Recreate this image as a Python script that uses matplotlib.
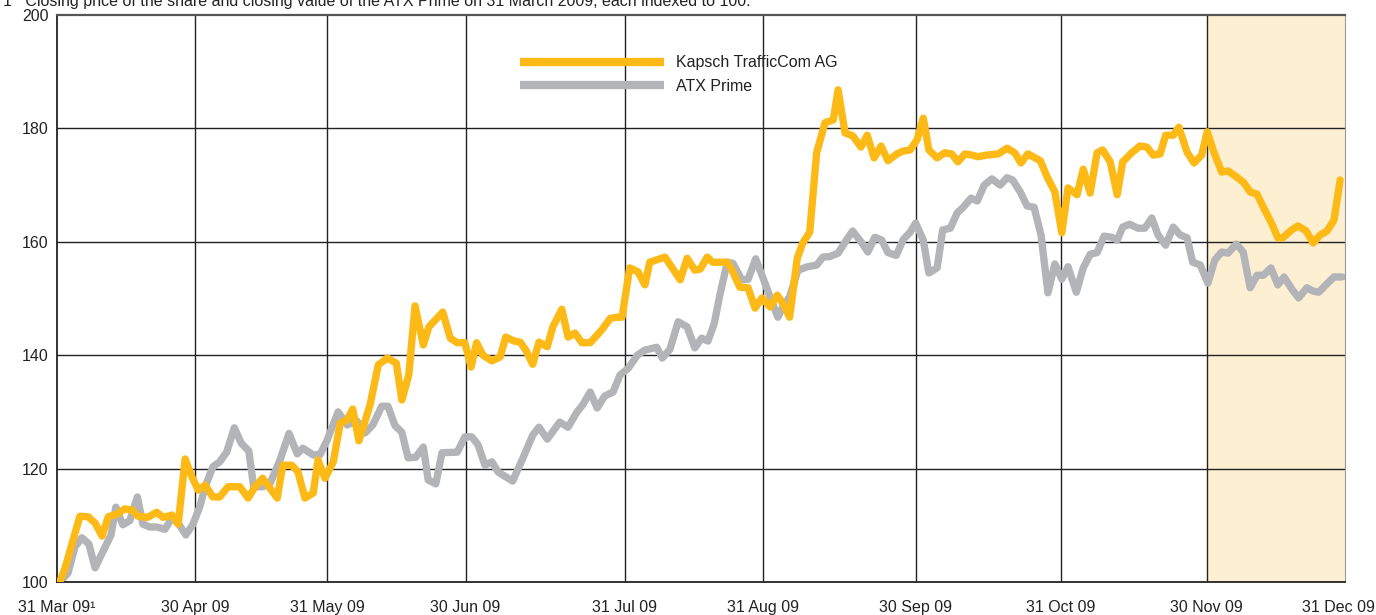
import matplotlib.pyplot as plt
from matplotlib.transforms import ScaledTranslation

plt.rcParams['font.family'] = ['Liberation Sans', 'DejaVu Sans']

# x = trading day since 31 Mar 09, y = index (31 Mar 09 = 100)
kapsch_day = [0.4, 1.2, 3.3, 4.5, 5.5, 6.5, 7.4, 8.7, 9.8, 10.8, 11.7, 13.1, 14.4, 15.3, 16.6, 17.5,
              18.5, 19.5, 20.4, 21.4, 22.5, 23.5, 24.7, 26.4, 27.6, 28.6, 29.7, 31.8, 32.6, 33.9, 34.8,
              35.8, 37.0, 37.7, 38.7, 39.9, 40.9, 41.9, 42.7, 43.6, 45.2, 46.4, 47.7, 49.0, 49.8, 50.8,
              51.7, 52.9, 53.7, 55.7, 56.8, 57.8, 58.9, 59.8, 60.6, 61.5, 62.8, 64.0, 64.8, 66.0, 66.9,
              67.7, 68.7, 69.6, 70.8, 71.6, 72.9, 73.8, 74.8, 75.8, 77.0, 78.7, 79.9, 80.9, 81.6, 82.7,
              83.9, 84.9, 85.6, 87.8, 90.0, 91.0, 92.1, 92.9, 93.9, 94.7, 96.8, 97.6, 98.6, 99.8, 100.8,
              101.8, 103.0, 104.0, 104.8, 105.8, 106.9, 107.7, 108.7, 109.7, 110.9, 112.1, 112.8, 113.8,
              114.9, 116.1, 117.0, 118.0, 119.0, 120.0, 121.3, 122.2, 123.2, 124.2, 125.1, 125.9, 127.1,
              128.2, 129.2, 130.1, 131.1, 132.1, 133.0, 134.3, 135.9, 137.2, 138.3, 139.2, 140.2, 142.0,
              143.0, 144.1, 145.1, 146.0, 147.3, 148.2, 149.2, 150.2, 151.0, 152.1, 153.1, 153.9, 155.2,
              156.4, 157.4, 158.3, 159.3, 160.1, 161.2, 162.0, 163.2, 164.2, 165.3, 166.1, 167.1, 168.2,
              169.1, 170.4, 171.4, 172.3, 173.3, 174.2, 175.5, 176.3, 177.0, 178.3, 179.2, 180.4, 181.4,
              182.4, 183.4, 184.4, 185.3]
kapsch_val = [100, 102.6, 111.6, 111.5, 110.4, 108.1, 111.5, 112, 112.9, 112.7, 111.6, 111.4, 112.3, 111.4,
              111.8, 110.2, 121.7, 118.5, 116.2, 117.1, 115, 115, 116.8, 116.8, 114.8, 116.8, 118.3, 114.8,
              120.6, 120.6, 119.4, 114.8, 115.7, 121.5, 118.3, 121.2, 128, 128.6, 130.5, 124.9, 131.2,
              138.3, 139.5, 138.6, 132.1, 136.5, 148.7, 141.8, 145, 147.6, 143, 142.2, 142.2, 137.9, 142.2,
              140, 139, 139.7, 143.2, 142.5, 142.3, 140.9, 138.4, 142.3, 141.5, 145, 148.1, 143.2, 143.9,
              142.2, 142.2, 144.5, 146.5, 146.7, 146.7, 155.4, 154.7, 152.4, 156.4, 157.3, 153.3, 157.1,
              155, 155.2, 157.3, 156.4, 156.4, 154.7, 152, 151.9, 148.3, 150.1, 148.5, 150.6, 149.2, 146.7,
              157.1, 159.8, 161.7, 175.7, 181, 181.5, 186.8, 179.2, 178.7, 176.7, 178.8, 174.8, 176.9,
              174.3, 175.5, 176, 176.2, 178, 181.8, 176.2, 174.8, 175.7, 175.5, 174.1, 175.5, 175.3, 175,
              175.3, 175.5, 176.5, 175.7, 173.9, 175.5, 174.3, 171.4, 168.8, 161.6, 169.5, 168.3, 172.8,
              168.6, 175.7, 176.2, 174.1, 168.3, 174.1, 175.7, 176.9, 176.7, 175.3, 175.5, 178.8, 178.8,
              180.2, 175.8, 173.9, 175.3, 179.4, 175.7, 172.3, 172.5, 171.4, 170.4, 168.8, 168.4, 166.1,
              163, 160.7, 160.7, 162.1, 162.8, 161.9, 159.8, 161.2, 161.9, 163.8, 170.9]

atx_day = [0.4, 1.6, 2.6, 3.6, 4.6, 5.5, 6.6, 7.8, 8.5, 9.5, 10.5, 11.6, 12.4, 13.4, 14.4, 15.6, 16.6,
           17.5, 18.6, 19.6, 20.6, 21.4, 22.5, 23.5, 24.5, 25.6, 26.6, 27.7, 28.4, 29.7, 30.8, 32.2,
           33.5, 34.7, 35.5, 37.0, 38.0, 39.0, 40.6, 41.9, 43.3, 44.5, 45.6, 46.9, 47.8, 48.8, 49.8,
           50.7, 51.8, 52.9, 53.6, 54.7, 55.6, 57.8, 58.9, 59.9, 60.8, 61.8, 62.8, 63.7, 65.8, 67.3,
           68.7, 69.6, 70.8, 72.6, 73.8, 75.1, 75.9, 77.0, 78.0, 79.1, 80.3, 81.3, 82.5, 83.8, 84.9,
           86.6, 87.4, 88.5, 89.7, 91.0, 92.1, 93.1, 94.0, 94.9, 95.7, 96.8, 97.6, 98.9, 99.8, 100.9,
           101.9, 103.0, 104.1, 104.8, 105.8, 107.0, 108.4, 109.7, 110.6, 111.6, 112.8, 114.1, 114.9,
           116.1, 117.1, 118.1, 119.1, 120.0, 121.2, 122.2, 123.2, 124.0, 125.1, 125.9, 127.1, 127.9,
           129.0, 130.0, 130.8, 132.0, 132.9, 133.9, 135.0, 136.2, 137.2, 138.0, 139.1, 140.1, 141.1,
           142.1, 143.1, 144.1, 145.1, 146.0, 147.2, 148.2, 149.2, 150.2, 151.2, 152.3, 153.1, 153.9,
           154.9, 156.1, 157.1, 158.1, 159.0, 160.1, 161.2, 162.2, 163.2, 164.0, 165.1, 166.2, 167.2,
           168.2, 169.1, 170.3, 171.3, 172.3, 173.3, 174.2, 175.3, 176.3, 177.2, 178.3, 179.3, 180.5,
           181.4, 182.2, 183.4, 184.4, 185.6]
atx_val = [100, 101.6, 106.2, 107.8, 106.7, 102.5, 105.3, 108.3, 113.2, 110.1, 110.8, 115, 110.2, 109.7,
           109.7, 109.3, 111.3, 110.4, 108.3, 110.1, 113.2, 116.8, 120.3, 121.2, 122.9, 127.2, 124.5,
           123.1, 116.8, 116.8, 117.5, 121.5, 126.2, 122.6, 123.6, 122.4, 122.5, 125, 130, 127.7, 128.4,
           126.3, 127.7, 131, 131, 127.6, 126.4, 121.9, 122, 123.8, 118, 117.3, 122.8, 122.9, 125.6,
           125.6, 124.2, 120.6, 121.2, 119.4, 117.8, 121.9, 125.9, 127.3, 125.2, 128.2, 127.3, 130,
           131.2, 133.5, 130.7, 132.8, 133.5, 136.5, 137.7, 140, 140.9, 141.4, 139.5, 141, 145.9, 145,
           141.3, 143, 142.5, 145.5, 150.5, 156.4, 156.2, 153.3, 153.4, 157, 153.8, 150.2, 146.7, 148.5,
           150.3, 155, 155.6, 155.9, 157.3, 157.4, 158, 160.5, 161.9, 160, 158.2, 160.8, 160.3, 158.1,
           157.6, 160.4, 161.7, 163.3, 160.3, 154.5, 155.4, 162.1, 162.4, 165.1, 166, 167.7, 167.2, 170,
           171.1, 170, 171.3, 170.9, 168.8, 166.3, 166.1, 161.2, 151, 156.1, 153.4, 155.6, 151.1, 155.4,
           157.8, 158.1, 161, 160.8, 160.3, 162.6, 163.1, 162.4, 162.4, 164.2, 161.2, 159.4, 162.6,
           161.2, 160.7, 156.4, 155.9, 152.7, 156.8, 158.2, 158, 159.6, 158.2, 151.9, 154.1, 154.1, 155.4,
           152.4, 153.8, 151.7, 150.1, 151.9, 151.3, 151.1, 152.6, 153.8, 153.8]

# month ends in trading days
month_end_day = [0, 20, 39, 59, 82, 102, 124, 145, 166, 186]
month_labels = ['31 Mar 09\u00b9', '30 Apr 09', '31 May 09', '30 Jun 09', '31 Jul 09',
                '31 Aug 09', '30 Sep 09', '31 Oct 09', '30 Nov 09', '31 Dec 09']
y_ticks = [100, 120, 140, 160, 180, 200]

yellow = '#FDB916'
grey = '#B3B4B7'
ink = '#222222'

fig = plt.figure(figsize=(13.76, 6.15), dpi=100)
ax = fig.add_axes([57 / 1376, 1 - 582 / 615, 1288 / 1376, 567 / 615])

# fourth quarter highlight
ax.axvspan(month_end_day[-2], month_end_day[-1], color='#FDEFD2', zorder=0, lw=0)

for d in month_end_day[1:-1]:
    ax.axvline(d, color=ink, lw=1.0, zorder=1)
for v in y_ticks[1:-1]:
    ax.axhline(v, color=ink, lw=1.0, zorder=1)

ax.plot(atx_day, atx_val, color=grey, lw=5.3, solid_joinstyle='round', solid_capstyle='round',
        label='ATX Prime', zorder=2)
ax.plot(kapsch_day, kapsch_val, color=yellow, lw=5.3, solid_joinstyle='round', solid_capstyle='round',
        label='Kapsch TrafficCom AG', zorder=3)

ax.set_xlim(0, 186)
ax.set_ylim(100, 200)
ax.set_xticks(month_end_day)
ax.set_xticklabels(month_labels)
ax.set_yticks(y_ticks)
ax.tick_params(axis='both', length=0, labelsize=11.5, colors=ink)
ax.tick_params(axis='x', pad=13)
ax.tick_params(axis='y', pad=6)

# last date label sits flush with the right edge
last = ax.get_xticklabels()[-1]
last.set_transform(last.get_transform() + ScaledTranslation(-0.07, 0, fig.dpi_scale_trans))

for side in ['left', 'bottom']:
    ax.spines[side].set_color(ink)
    ax.spines[side].set_linewidth(1.3)
ax.spines['top'].set_color('#555555')
ax.spines['top'].set_linewidth(1.6)
ax.spines['right'].set_color('#999999')
ax.spines['right'].set_linewidth(0.8)

handles, labels = ax.get_legend_handles_labels()
leg = ax.legend(handles[::-1], labels[::-1], loc='upper left', bbox_to_anchor=(0.3595, 0.929),
                frameon=False, fontsize=11.5, handlelength=9.0, handletextpad=0.75,
                labelspacing=0.55, borderpad=0, borderaxespad=0)
for line in leg.get_lines():
    line.set_linewidth(6)
    line.set_solid_capstyle('butt')
for t in leg.get_texts():
    t.set_color(ink)

fig.text(0.002, 1 - 6 / 615,
         '1   Closing price of the share and closing value of the ATX Prime on 31 March 2009, each indexed to 100.',
         fontsize=11.5, color=ink, va='baseline', ha='left')

fig.savefig('out.png', dpi=100)
